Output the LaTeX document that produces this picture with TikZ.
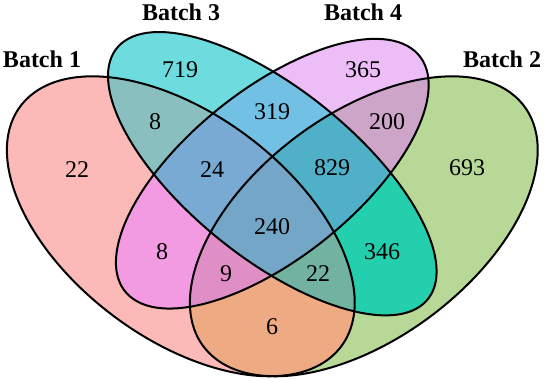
\documentclass[tikz,border=0pt]{standalone}
\usepackage{fontspec}
\setmainfont{Liberation Serif}
\usepackage{tikz}
\usepackage{xcolor}
\usetikzlibrary{positioning}

\definecolor{c1}{HTML}{FBBAB8}
\definecolor{c2}{HTML}{B8D898}
\definecolor{c3}{HTML}{6EDCDF}
\definecolor{c4}{HTML}{EDBDF7}
\definecolor{c12}{HTML}{EEAA82}
\definecolor{c13}{HTML}{8ABFBF}
\definecolor{c14}{HTML}{F29BE2}
\definecolor{c23}{HTML}{24CFAE}
\definecolor{c24}{HTML}{CDA5C8}
\definecolor{c34}{HTML}{72C0E4}
\definecolor{c123}{HTML}{72B2A0}
\definecolor{c124}{HTML}{E08EC6}
\definecolor{c134}{HTML}{79AAD4}
\definecolor{c234}{HTML}{4FB0C8}
\definecolor{c1234}{HTML}{74A6C8}

\begin{document}
\begin{tikzpicture}[
x=0.5pt, y=0.5pt,
e1/.style={shift={(180.8,-226.3)}, cm={-150.97,130.18,-86.27,-74.39,(0,0)}},
e2/.style={shift={(363.8,-226.3)}, cm={150.97,130.18,-86.27,74.39,(0,0)}},
e3/.style={shift={(272.3,-173.7)}, cm={-150.97,130.18,-64.70,-55.79,(0,0)}},
e4/.style={shift={(272.3,-173.7)}, cm={142.34,122.74,-64.70,55.79,(0,0)}},
edge/.style={draw=black, line width=1pt},
num/.style={font=\fontsize{12}{14}\selectfont, inner sep=0pt},
title/.style={font=\fontsize{12}{14}\selectfont\bfseries, inner sep=0pt}
]
\useasboundingbox (0,0) rectangle (550,-379);
% single sets
\foreach \s in {1,2,3,4}
  \fill[e\s, c\s] (0,0) circle (1);
% pairs
\foreach \p/\q in {1/2,1/3,1/4,2/3,2/4,3/4} {
  \begin{scope}
    \clip[e\p] (0,0) circle (1);
    \fill[e\q, c\p\q] (0,0) circle (1);
  \end{scope}
}
% triples
\foreach \p/\q/\r in {1/2/3,1/2/4,1/3/4,2/3/4} {
  \begin{scope}
    \clip[e\p] (0,0) circle (1);
    \clip[e\q] (0,0) circle (1);
    \fill[e\r, c\p\q\r] (0,0) circle (1);
  \end{scope}
}
% all four
\begin{scope}
  \clip[e1] (0,0) circle (1);
  \clip[e2] (0,0) circle (1);
  \clip[e3] (0,0) circle (1);
  \fill[e4, c1234] (0,0) circle (1);
\end{scope}
% outlines
\foreach \s in {1,2,3,4}
  \draw[e\s, edge] (0,0) circle (1);

\node[title] (t1) at (42,-59) {Batch 1};
\node[title] (t3) at (181,-12) {Batch 3};
\node[title] (t4) at (363,-12) {Batch 4};
\node[title] (t2) at (502,-59) {Batch 2};

\node[num] (n1) at (77,-170) {22};
\node[num] (n3) at (180,-70) {719};
\node[num] (n4) at (363,-70) {365};
\node[num] (n2) at (467,-168) {693};
\node[num] (n13) at (155,-122) {8};
\node[num] (n34) at (272,-112) {319};
\node[num] (n24) at (387,-122) {200};
\node[num] (n134) at (212,-170) {24};
\node[num] (n234) at (332,-168) {829};
\node[num] (n1234) at (272,-227) {240};
\node[num] (n14) at (162,-252) {8};
\node[num] (n23) at (382,-252) {346};
\node[num] (n124) at (226,-274) {9};
\node[num] (n123) at (318,-274) {22};
\node[num] (n12) at (272,-327) {6};
\end{tikzpicture}
\end{document}
